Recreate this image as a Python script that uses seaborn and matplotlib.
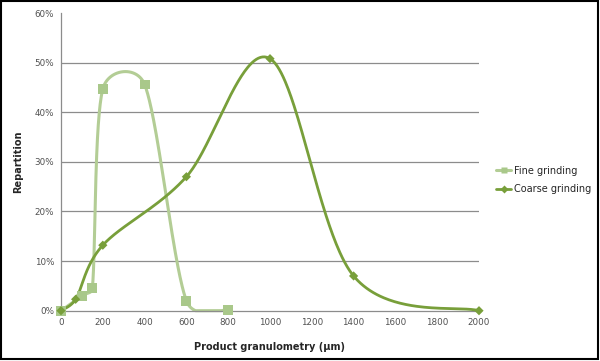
import matplotlib
matplotlib.use("Agg")
import matplotlib.pyplot as plt
import matplotlib.lines as mlines
from matplotlib.ticker import PercentFormatter
import seaborn as sns
import pandas as pd
import numpy as np

# ------------------------------------------------------------------
# Data
# ------------------------------------------------------------------
fine_size = [0, 100, 150, 200, 400, 600, 800]
fine_pct = [0.0, 3.0, 4.6, 44.7, 45.6, 2.0, 0.1]

coarse_size = [0, 70, 200, 600, 1000, 1400, 2000]
coarse_pct = [0.0, 2.3, 13.2, 27.0, 50.8, 7.0, 0.0]

FINE_COLOR = "#b3cd95"
FINE_MARKER = "#a9c88a"
COARSE_COLOR = "#789f3a"


def smooth(x, y, n=80, f=1 / 6, cap=0.5):
    """Excel-like smoothed line: Bezier segments with Catmull-Rom tangents,
    control arms limited to a share of the segment length."""
    p = np.column_stack([x, y]).astype(float)
    sx, sy = 418 / 2000, 49.7 / 10  # work in screen-like units
    p = p * [sx, sy]
    pts = np.vstack([p[0], p, p[-1]])
    out = []
    t = np.linspace(0, 1, n)[:, None]
    for i in range(1, len(pts) - 2):
        p0, p1, p2, p3 = pts[i - 1], pts[i], pts[i + 1], pts[i + 2]
        seg_len = np.hypot(*(p2 - p1))
        a1 = (p2 - p0) * f
        a2 = (p3 - p1) * f
        for a in (a1, a2):
            la = np.hypot(*a)
            if la > cap * seg_len and la > 0:
                a *= cap * seg_len / la
        c1 = p1 + a1
        c2 = p2 - a2
        seg = ((1 - t) ** 3) * p1 + 3 * ((1 - t) ** 2) * t * c1 \
            + 3 * (1 - t) * t ** 2 * c2 + t ** 3 * p2
        out.append(seg if i == 1 else seg[1:])
    out = np.vstack(out) / [sx, sy]
    return out[:, 0], np.maximum(out[:, 1], 0)


fx, fy = smooth(fine_size, fine_pct)
cx, cy = smooth(coarse_size, coarse_pct)
fine_curve = pd.DataFrame({"size": fx, "pct": fy})
coarse_curve = pd.DataFrame({"size": cx, "pct": cy})
fine_pts = pd.DataFrame({"size": fine_size, "pct": fine_pct})
coarse_pts = pd.DataFrame({"size": coarse_size, "pct": coarse_pct})

sns.set_style("white")
plt.rcParams["font.family"] = ["DejaVu Sans"]

fig = plt.figure(figsize=(6.0, 3.61), dpi=100)
ax = fig.add_axes([61 / 600, 1 - 310.7 / 361, 418 / 600, (310.7 - 13) / 361])

# gridlines (no line at the top)
for g in [10, 20, 30, 40, 50]:
    ax.axhline(g, color="#8c8c8c", lw=0.9, zorder=0)

sns.lineplot(data=fine_curve, x="size", y="pct", sort=False, estimator=None,
             color=FINE_COLOR, lw=2.2, ax=ax, zorder=2, clip_on=False)
sns.lineplot(data=coarse_curve, x="size", y="pct", sort=False, estimator=None,
             color=COARSE_COLOR, lw=2.0, ax=ax, zorder=3, clip_on=False)
sns.scatterplot(data=fine_pts, x="size", y="pct", marker="s", s=50,
                color=FINE_MARKER, edgecolor="none", ax=ax, zorder=4, clip_on=False)
sns.scatterplot(data=coarse_pts, x="size", y="pct", marker="D", s=22,
                color=COARSE_COLOR, edgecolor="none", ax=ax, zorder=5, clip_on=False)

ax.set_xlim(0, 2000)
ax.set_ylim(0, 60)
ax.set_xticks(range(0, 2001, 200))
ax.set_yticks(range(0, 61, 10))
ax.yaxis.set_major_formatter(PercentFormatter(decimals=0))
ax.tick_params(axis="both", length=0, labelsize=6.3, colors="#505050", pad=5)

for s in ["top", "right"]:
    ax.spines[s].set_visible(False)
for s in ["left", "bottom"]:
    ax.spines[s].set_color("#8c8c8c")
    ax.spines[s].set_linewidth(0.9)

ax.set_xlabel("Product granulometry (µm)", fontsize=7, fontweight="bold", labelpad=11)
ax.set_ylabel("Repartition", fontsize=7, fontweight="bold", labelpad=8)

handles = [
    mlines.Line2D([], [], color=FINE_COLOR, lw=2.2, marker="s", markersize=5,
                  markerfacecolor=FINE_MARKER, markeredgecolor="none", label="Fine grinding"),
    mlines.Line2D([], [], color=COARSE_COLOR, lw=2.0, marker="D", markersize=4,
                  markeredgecolor="none", label="Coarse grinding"),
]
fig.legend(handles=handles, loc="center left", bbox_to_anchor=(492 / 600, 1 - 180 / 361),
           frameon=False, fontsize=7, handlelength=1.6, handletextpad=0.3,
           labelspacing=0.9, borderaxespad=0)

# outer chart border
fig.patches.append(plt.Rectangle((0.002, 0.006), 0.994, 0.99, transform=fig.transFigure,
                                 fill=False, edgecolor="black", lw=1.5))

fig.savefig("out.png", dpi=100)
